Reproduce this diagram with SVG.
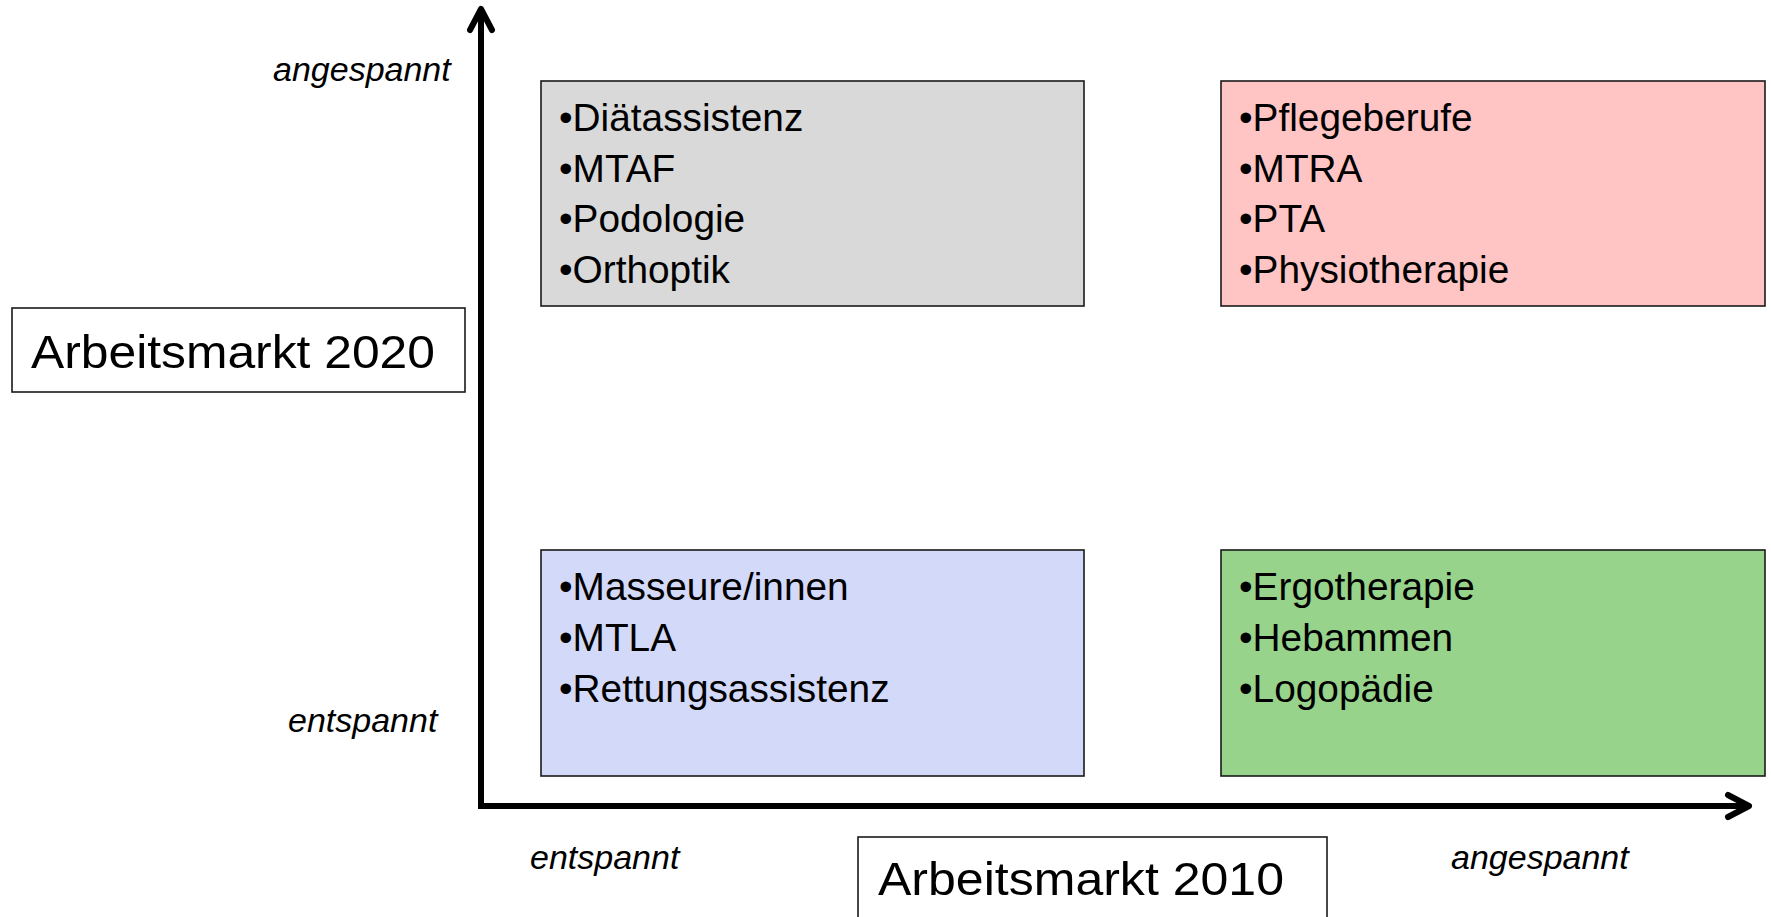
<svg xmlns="http://www.w3.org/2000/svg" width="1771" height="917" viewBox="0 0 1771 917">
<style>
.box{stroke:#1a1a1a;stroke-width:1.6}
.item{font-family:"Liberation Sans",Arial,sans-serif;font-size:38.8px;fill:#000}
.title{font-family:"Liberation Sans",Arial,sans-serif;font-size:47px;fill:#000}
.axl{font-family:"Liberation Sans",Arial,sans-serif;font-size:34px;font-style:italic;fill:#000}
.axis{fill:none;stroke:#000;stroke-width:6}
.head{fill:none;stroke:#000;stroke-width:6;stroke-linecap:round;stroke-linejoin:round}
</style>
<rect width="1771" height="917" fill="#fff"/>
<g id="connectors">
<polyline class="axis" points="481,12 481,806 1746,806" stroke-linejoin="miter"/>
<path class="head" d="M470,30 L481,9 L492,30"/>
<path class="head" d="M1728,795 L1749,806 L1728,817"/>
</g>
<g id="q-top-left">
<rect class="box" x="541" y="81" width="543" height="225" fill="#D9D9D9"/>
<text class="item" x="559" y="131">•Diätassistenz</text>
<text class="item" x="559" y="181.5">•MTAF</text>
<text class="item" x="559" y="232">•Podologie</text>
<text class="item" x="559" y="282.5">•Orthoptik</text>
</g>
<g id="q-top-right">
<rect class="box" x="1221" y="81" width="544" height="225" fill="#FFC4C4"/>
<text class="item" x="1239" y="131">•Pflegeberufe</text>
<text class="item" x="1239" y="181.5">•MTRA</text>
<text class="item" x="1239" y="232">•PTA</text>
<text class="item" x="1239" y="282.5">•Physiotherapie</text>
</g>
<g id="q-bottom-left">
<rect class="box" x="541" y="550" width="543" height="226" fill="#D3D9F9"/>
<text class="item" x="559" y="600">•Masseure/innen</text>
<text class="item" x="559" y="651">•MTLA</text>
<text class="item" x="559" y="702">•Rettungsassistenz</text>
</g>
<g id="q-bottom-right">
<rect class="box" x="1221" y="550" width="544" height="226" fill="#97D38B"/>
<text class="item" x="1239" y="600">•Ergotherapie</text>
<text class="item" x="1239" y="651">•Hebammen</text>
<text class="item" x="1239" y="702">•Logopädie</text>
</g>
<g id="label-2020">
<rect class="box" x="12" y="308" width="453" height="84" fill="#fff"/>
<text class="title" x="31" y="368" textLength="404" lengthAdjust="spacingAndGlyphs">Arbeitsmarkt 2020</text>
</g>
<g id="label-2010">
<rect class="box" x="858" y="837" width="469" height="100" fill="#fff"/>
<text class="title" x="878" y="895" textLength="406" lengthAdjust="spacingAndGlyphs">Arbeitsmarkt 2010</text>
</g>
<g id="axis-labels">
<text class="axl" x="273" y="81">angespannt</text>
<text class="axl" x="288" y="732">entspannt</text>
<text class="axl" x="530" y="869">entspannt</text>
<text class="axl" x="1451" y="869">angespannt</text>
</g>
</svg>
